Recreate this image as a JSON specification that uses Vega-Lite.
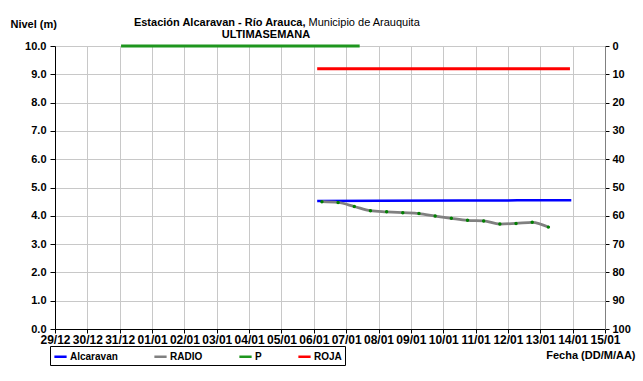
{
  "$schema": "https://vega.github.io/schema/vega-lite/v6.json",
  "width": 550,
  "height": 283,
  "autosize": {"type": "none"},
  "padding": {"left": 55, "top": 46, "right": 38, "bottom": 52},
  "background": "white",
  "config": {
    "font": "Liberation Sans",
    "view": {"stroke": null},
    "axis": {
      "labelFont": "Liberation Sans",
      "labelFontSize": 11,
      "labelFontWeight": "bold",
      "labelColor": "#000000",
      "labelOverlap": false,
      "titleFont": "Liberation Sans",
      "titleFontSize": 11,
      "titleFontWeight": "bold",
      "titleColor": "#000000",
      "gridColor": "#c8c8c8",
      "gridWidth": 1,
      "tickColor": "#000000",
      "domainColor": "#000000"
    }
  },
  "title": {
    "text": "ULTIMASEMANA",
    "font": "Liberation Sans",
    "fontSize": 11,
    "fontWeight": "bold",
    "color": "#000000",
    "anchor": "middle",
    "baseline": "middle",
    "offset": 0,
    "dx": -64,
    "dy": 29
  },
  "datasets": {
    "lvl": [
      {"series": "Alcaravan", "date": "2020-01-06T02:30:00", "value": 4.52},
      {"series": "Alcaravan", "date": "2020-01-08T00:00:00", "value": 4.53},
      {"series": "Alcaravan", "date": "2020-01-10T12:00:00", "value": 4.54},
      {"series": "Alcaravan", "date": "2020-01-13T23:00:00", "value": 4.55},
      {"series": "RADIO", "date": "2020-01-06T06:00:00", "value": 4.50},
      {"series": "RADIO", "date": "2020-01-06T18:00:00", "value": 4.47},
      {"series": "RADIO", "date": "2020-01-07T06:00:00", "value": 4.33},
      {"series": "RADIO", "date": "2020-01-07T18:00:00", "value": 4.18},
      {"series": "RADIO", "date": "2020-01-08T06:00:00", "value": 4.14},
      {"series": "RADIO", "date": "2020-01-08T18:00:00", "value": 4.11},
      {"series": "RADIO", "date": "2020-01-09T06:00:00", "value": 4.08},
      {"series": "RADIO", "date": "2020-01-09T18:00:00", "value": 3.99},
      {"series": "RADIO", "date": "2020-01-10T06:00:00", "value": 3.91},
      {"series": "RADIO", "date": "2020-01-10T18:00:00", "value": 3.84},
      {"series": "RADIO", "date": "2020-01-11T06:00:00", "value": 3.82},
      {"series": "RADIO", "date": "2020-01-11T18:00:00", "value": 3.71},
      {"series": "RADIO", "date": "2020-01-12T06:00:00", "value": 3.73},
      {"series": "RADIO", "date": "2020-01-12T18:00:00", "value": 3.77},
      {"series": "RADIO", "date": "2020-01-13T06:00:00", "value": 3.60},
      {"series": "ROJA", "date": "2020-01-06T02:30:00", "value": 9.2},
      {"series": "ROJA", "date": "2020-01-13T22:00:00", "value": 9.2}
    ],
    "precip": [
      {"series": "P", "date": "2019-12-31T01:00:00", "value": 0},
      {"series": "P", "date": "2020-01-07T10:00:00", "value": 0}
    ]
  },
  "layer": [
    {
      "data": {"name": "lvl"},
      "encoding": {
        "x": {
          "field": "date",
          "type": "temporal",
          "scale": {"domain": [{"year": 2019, "month": 12, "date": 29}, {"year": 2020, "month": 1, "date": 15}]},
          "axis": {
            "orient": "bottom",
            "format": "%d/%m",
            "tickCount": {"interval": "day", "step": 1},
            "labelOverlap": false,
            "labelFlush": false,
            "labelPadding": 1,
            "labelFontSize": 12,
            "labelFontWeight": "bold",
            "tickSize": 4,
            "grid": true,
            "title": "Fecha (DD/M/AA)",
            "titleAlign": "right",
            "titleBaseline": "middle",
            "titleAnchor": null,
            "titleX": 580,
            "titleY": 26
          }
        },
        "y": {
          "field": "value",
          "type": "quantitative",
          "scale": {"domain": [0, 10], "nice": false},
          "axis": {
            "values": [0, 1, 2, 3, 4, 5, 6, 7, 8, 9, 10],
            "labelOverlap": false,
            "labelFontWeight": "bold",
            "format": ".1f",
            "grid": true,
            "tickSize": 5,
            "labelPadding": 4,
            "title": "Nivel (m)",
            "titleAngle": 0,
            "titleAlign": "left",
            "titleBaseline": "middle",
            "titleX": -45,
            "titleY": -22
          }
        }
      },
      "layer": [
        {
          "mark": {"type": "line", "interpolate": "monotone"},
          "encoding": {
            "color": {
              "field": "series",
              "type": "nominal",
              "scale": {"domain": ["Alcaravan", "RADIO", "P", "ROJA"], "range": ["#0000ff", "#808080", "#1e961e", "#ff0000"]},
              "legend": {
                "title": null,
                "orient": "none",
                "legendX": -5,
                "legendY": 300,
                "direction": "horizontal",
                "strokeColor": "#000000",
                "padding": 3,
                "symbolType": "stroke",
                "symbolSize": 150,
                "symbolStrokeWidth": 2.5,
                "labelFont": "Liberation Sans",
                "labelFontSize": 10,
                "labelFontWeight": "bold",
                "labelColor": "#000000",
                "columnPadding": 31,
                "labelOffset": 2,
                "encode": {"labels": {"update": {"fontWeight": {"value": "bold"}}}}
              }
            },
            "strokeWidth": {
              "field": "series",
              "type": "nominal",
              "scale": {"domain": ["Alcaravan", "RADIO", "ROJA"], "range": [2.5, 3, 2]},
              "legend": null
            }
          }
        },
        {
          "transform": [{"filter": "datum.series === 'RADIO'"}],
          "mark": {"type": "circle", "color": "#008000", "size": 12, "opacity": 1}
        }
      ]
    },
    {
      "data": {"name": "precip"},
      "mark": {"type": "line", "strokeWidth": 3},
      "encoding": {
        "x": {
          "field": "date",
          "type": "temporal",
          "axis": {
            "orient": "top",
            "labels": false,
            "ticks": false,
            "domain": false,
            "grid": false,
            "title": "Estación Alcaravan - Río Arauca,",
            "titleAlign": "right",
            "titleBaseline": "middle",
            "titleAnchor": null,
            "titleX": 250,
            "titleY": -23.5
          }
        },
        "y": {
          "field": "value",
          "type": "quantitative",
          "scale": {"domain": [0, 100], "reverse": true, "nice": false},
          "axis": {
            "orient": "right",
            "values": [0, 10, 20, 30, 40, 50, 60, 70, 80, 90, 100],
            "labelOverlap": false,
            "grid": false,
            "domainColor": "#808080",
            "tickSize": 4,
            "labelPadding": 3,
            "title": "Municipio de Arauquita",
            "titleFontWeight": "normal",
            "titleAngle": 0,
            "titleAlign": "left",
            "titleBaseline": "middle",
            "titleX": -297,
            "titleY": -23.5
          }
        },
        "color": {"field": "series", "type": "nominal"}
      }
    }
  ],
  "resolve": {"scale": {"y": "independent"}, "axis": {"x": "independent", "y": "independent"}}
}
